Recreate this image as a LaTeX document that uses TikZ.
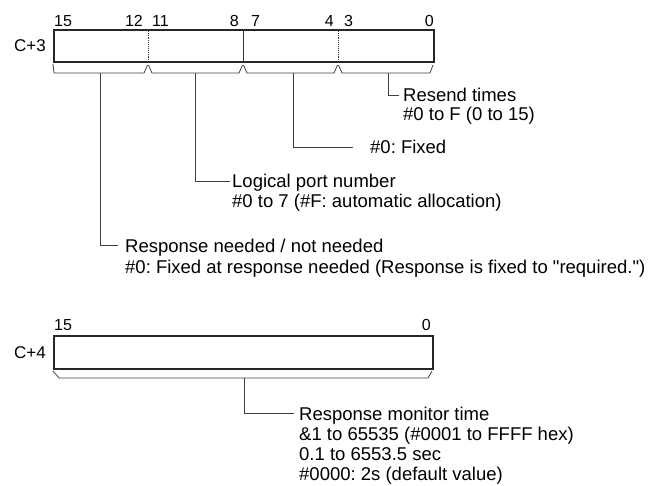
\documentclass[tikz,border=0pt]{standalone}
\usepackage{fontspec}
\setmainfont{Liberation Sans}[Ligatures=TeXOff]
\frenchspacing
\begin{document}
\begin{tikzpicture}[x=1pt,y=-1pt,
  reg/.style={draw=black!85,line width=1.6pt,fill=white,inner sep=0pt,anchor=north west},
  divd/.style={draw=black!80,line width=0.9pt,densely dotted},
  divs/.style={draw=black!80,line width=1pt},
  lead/.style={draw=black!75,line width=0.9pt},
  brc/.style={draw=black!75,line width=0.8pt},
  desc/.style={font=\fontsize{18.5}{20}\selectfont,anchor=base west,inner sep=0pt},
  bitl/.style={font=\fontsize{16}{18}\selectfont,anchor=base west,inner sep=0pt},
  bitr/.style={font=\fontsize{16}{18}\selectfont,anchor=base east,inner sep=0pt},
  regname/.style={font=\fontsize{17}{19}\selectfont,anchor=base east,inner sep=0pt},
]
\useasboundingbox (0,0) rectangle (650,486);

% ---------- C+3 ----------
\node[reg,minimum width=380pt,minimum height=32pt] (r3) at (53,29) {};
\node[regname] (n3) at (46,51.5) {C+3};
\draw[divd] (148,29) -- (148,61);
\draw[divs] (243,29) -- (243,61);
\draw[divd] (338,29) -- (338,61);

\node[bitl] (b15) at (54,26.5) {15};
\node[bitr] (b12) at (143,26.5) {12};
\node[bitl] (b11) at (152,26.5) {11};
\node[bitr] (b8)  at (239,26.5) {8};
\node[bitl] (b7)  at (251,26.5) {7};
\node[bitr] (b4)  at (334,26.5) {4};
\node[bitl] (b3)  at (344,26.5) {3};
\node[bitr] (b0)  at (434,26.5) {0};

% braces
\draw[brc] (53,64) -- (54,73) -- (144,73) -- (147.5,65);
\draw[brc] (148.5,65) -- (152,73) -- (239,73) -- (242.5,65);
\draw[brc] (243.5,65) -- (247,73) -- (334,73) -- (337.5,65);
\draw[brc] (338.5,65) -- (342,73) -- (430,73) -- (433,65);

\coordinate (c1) at (388,73);
\coordinate (c2) at (293,73);
\coordinate (c3) at (195,73);
\coordinate (c4) at (100,73);

\node[desc] (t1a) at (403,102) {Resend times};
\node[desc] (t1b) at (403,121) {\#0 to F (0 to 15)};
\node[desc] (t2)  at (370,154) {\#0: Fixed};
\node[desc] (t3a) at (232,188) {Logical port number};
\node[desc] (t3b) at (232,208) {\#0 to 7 (\#F: automatic allocation)};
\node[desc] (t4a) at (125,252) {Response needed / not needed};
\node[desc] (t4b) at (125,273) {\#0: Fixed at response needed (Response is fixed to "required.")};

\draw[lead] (c1) |- ([xshift=-4pt,yshift=6.6pt]t1a.base west);
\draw[lead] (c2) |- ([xshift=-17pt,yshift=6.6pt]t2.base west);
\draw[lead] (c3) |- ([xshift=-2pt,yshift=6.6pt]t3a.base west);
\draw[lead] (c4) |- ([xshift=-7pt,yshift=6.6pt]t4a.base west);

% ---------- C+4 ----------
\node[reg,minimum width=379pt,minimum height=33pt] (r4) at (53,335) {};
\node[regname] (n4) at (46,358) {C+4};
\node[bitl] (d15) at (54,330) {15};
\node[bitr] (d0)  at (431,330) {0};

\draw[brc] (53,371) -- (59,378) -- (428,378) -- (432,371);
\coordinate (c5) at (244,378);

\node[desc] (t5a) at (299,420) {Response monitor time};
\node[desc] (t5b) at (299,440) {\&1 to 65535 (\#0001 to FFFF hex)};
\node[desc] (t5c) at (299,460) {0.1 to 6553.5 sec};
\node[desc] (t5d) at (299,480) {\#0000: 2s (default value)};

\draw[lead] (c5) |- ([xshift=-5pt,yshift=6.6pt]t5a.base west);
\end{tikzpicture}
\end{document}
